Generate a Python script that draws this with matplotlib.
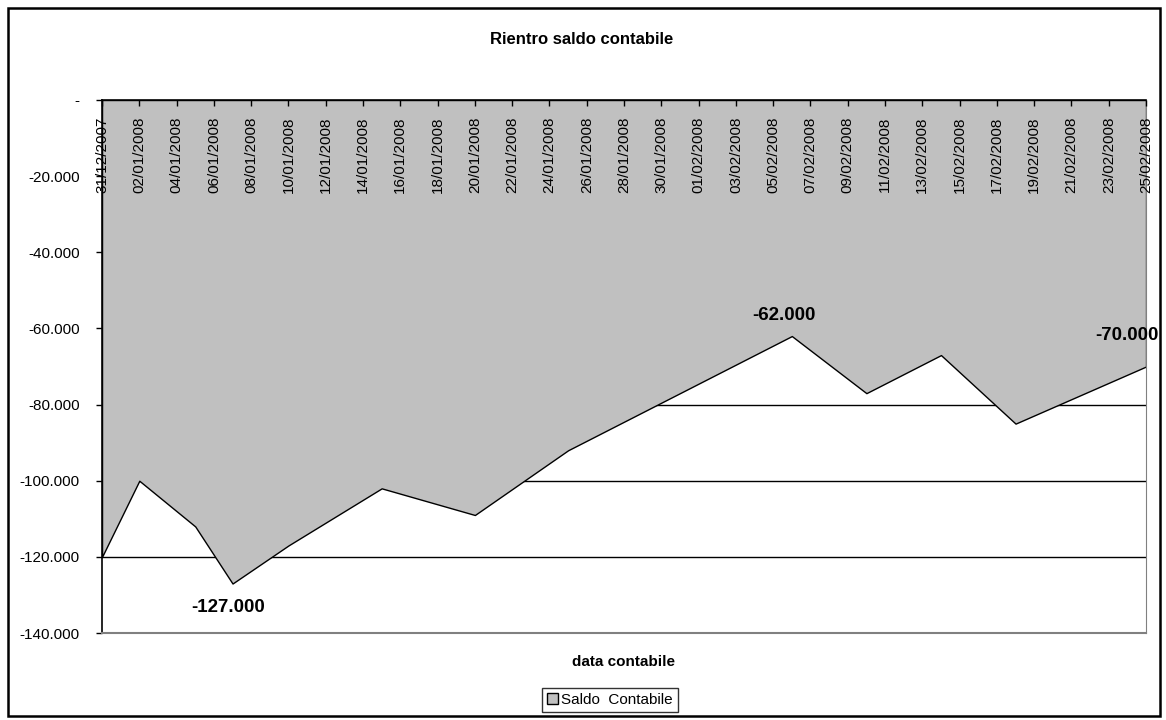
import matplotlib
matplotlib.use('Agg')
import matplotlib.pyplot as plt
import matplotlib.dates as mdates
from matplotlib.patches import Patch, Rectangle
from matplotlib.ticker import FuncFormatter
import pandas as pd

plt.rcParams['font.family'] = ['Liberation Sans', 'DejaVu Sans']

# saldo contabile sui giorni di movimento
dates = ['31/12/2007', '02/01/2008', '05/01/2008', '07/01/2008', '10/01/2008',
         '15/01/2008', '20/01/2008', '25/01/2008', '06/02/2008', '10/02/2008',
         '14/02/2008', '18/02/2008', '25/02/2008']
saldo = [-120000, -100000, -112000, -127000, -117000, -102000, -109000,
         -92000, -62000, -77000, -67000, -85000, -70000]
labelled = ['07/01/2008', '06/02/2008', '25/02/2008']
y_ticks = [0, -20000, -40000, -60000, -80000, -100000, -120000, -140000]

x = pd.to_datetime(dates, dayfirst=True)

fig = plt.figure(figsize=(11.66, 7.2), dpi=100)
ax = fig.add_axes([0.0875, 0.1208, 0.8954, 0.7403])

# griglia sotto l'area, assi sopra
for t in y_ticks:
    ax.axhline(t, color='black', linewidth=1.0, zorder=1)
ax.fill_between(x, saldo, 0, facecolor='#c0c0c0', edgecolor='black',
                linewidth=1.0, zorder=2)
ax.set_axisbelow(False)

ax.set_xlim(x[0], x[-1])
ax.set_ylim(-140000, 0)
ax.set_yticks(y_ticks)
ax.yaxis.set_major_formatter(FuncFormatter(
    lambda v, p: '-' if v == 0 else f'{v:,.0f}'.replace(',', '.')))

# asse delle date in alto, etichette verticali sotto l'asse
ax.set_xticks(pd.date_range(x[0], x[-1], freq='2D'))
ax.xaxis.set_major_formatter(mdates.DateFormatter('%d/%m/%Y'))
ax.spines['bottom'].set_position(('axes', 1.0))
ax.spines['top'].set_visible(False)
ax.spines['right'].set_color('#808080')
ax.plot([0, 1], [0, 0], transform=ax.transAxes, color='#808080',
        linewidth=1.5, clip_on=False, zorder=3)
ax.tick_params(axis='x', direction='out', length=4, width=1, pad=8,
               labelsize=11, labelrotation=90)
ax.tick_params(axis='y', direction='out', length=4, width=1, pad=12,
               labelsize=11)
for s in ['left', 'bottom']:
    ax.spines[s].set_linewidth(1.2)

offsets = {'07/01/2008': (-3, -17), '06/02/2008': (-6, 15), '25/02/2008': (-14, 22)}
for d in labelled:
    i = dates.index(d)
    v = saldo[i]
    ax.annotate(f'{v:,.0f}'.replace(',', '.'), (x[i], v),
                xytext=offsets[d], textcoords='offset points',
                ha='center', va='center', fontsize=13.5, fontweight='bold',
                annotation_clip=False, zorder=5)

fig.text(0.4987, 1 - 40 / 720, 'Rientro saldo contabile', ha='center',
         va='center', fontsize=12, fontweight='bold')
fig.text(624 / 1166, 1 - 662 / 720, 'data contabile', ha='center',
         va='center', fontsize=11, fontweight='bold')

leg = fig.legend(handles=[Patch(facecolor='#c0c0c0', edgecolor='black',
                                label='Saldo  Contabile')],
                 loc='center', bbox_to_anchor=(610 / 1166, 1 - 700 / 720),
                 fontsize=11, frameon=True, fancybox=False,
                 handlelength=0.7, handleheight=0.7, handletextpad=0.2,
                 borderpad=0.35)
leg.get_frame().set_edgecolor('black')
leg.get_frame().set_linewidth(1.0)

fig.patches.append(Rectangle((8 / 1166, 4 / 720), 1152 / 1166, 708 / 720,
                             transform=fig.transFigure, fill=False,
                             edgecolor='black', linewidth=1.8))

fig.savefig('out.png', dpi=100)
